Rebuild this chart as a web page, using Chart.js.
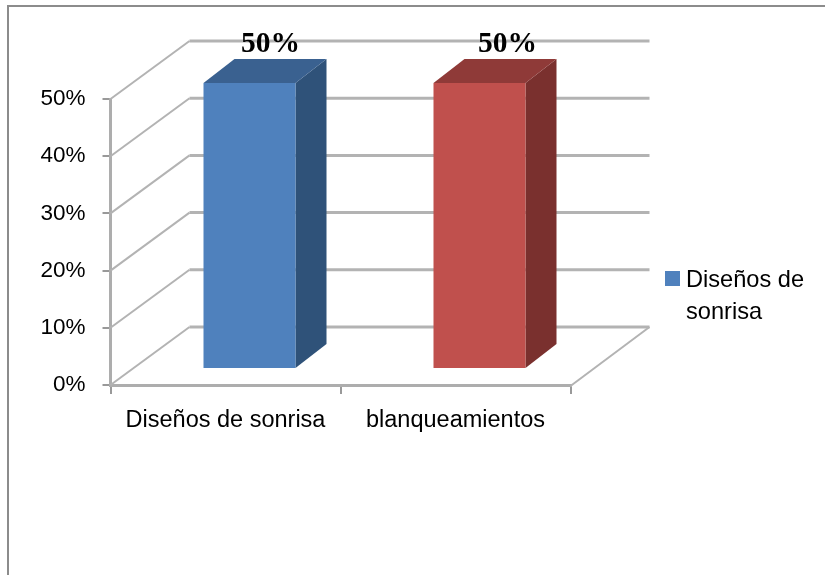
<!DOCTYPE html>
<html>
<head>
<meta charset="utf-8">
<title>Diseños de sonrisa</title>
<script src="https://cdn.jsdelivr.net/npm/chart.js@4"></script>
<style>
  html, body { margin: 0; background: #fff; }
  #wrap { position: relative; width: 825px; height: 575px; overflow: hidden; }
  #frame { position: absolute; left: 7px; top: 5px; width: 830px; height: 590px; border-left: 2px solid #8c8c8c; border-top: 2px solid #8c8c8c; }
  #legend { position: absolute; left: 665px; top: 263px; width: 150px; font: 23.6px/32px "Liberation Sans", sans-serif; color: #000; padding-left: 21px; box-sizing: border-box; }
  #legend i { position: absolute; left: 0; top: 8px; width: 15px; height: 15px; background: #4f81bd; }
  canvas { position: absolute; left: 0; top: 0; filter: blur(0.4px); }
</style>
</head>
<body>
<div id="wrap">
  <div id="frame"></div>
  <canvas id="c" width="825" height="575"></canvas>
  <div id="legend"><i></i>Diseños de sonrisa</div>
</div>
<script>
const categories = ['Diseños de sonrisa', 'blanqueamientos'];
const values = [50, 50];
const tickStep = 10;
const axisMax = 50;
const frontColors = ['#4f81bd', '#c0504d'];
const sideColors = ['#2f5279', '#7a302e'];
const topColors = ['#3a6190', '#8f3a38'];

// 3d look: the depth of the box and how far the bars sit in from the front edge
const DEPTH = { x: 79, y: -58 };
const BAR_DEPTH = { x: 31, y: -24 };
const BAR_SHIFT = { x: 24, y: -16 };
const LABEL_SHIFT = [45, 52];
const WALL = '#b3b3b3';

const box3d = {
  id: 'box3d',
  beforeDatasetsDraw(chart) {
    const { ctx, chartArea: a, scales: { y } } = chart;
    ctx.save();
    ctx.lineJoin = 'round';
    for (let v = 0; v <= axisMax; v += tickStep) {
      const py = y.getPixelForValue(v);
      ctx.strokeStyle = WALL;
      ctx.lineWidth = 2;
      ctx.beginPath();
      ctx.moveTo(a.left, py);
      ctx.lineTo(a.left + DEPTH.x, py + DEPTH.y);
      ctx.stroke();
      ctx.lineWidth = 3;
      ctx.beginPath();
      ctx.moveTo(a.left + DEPTH.x, py + DEPTH.y);
      ctx.lineTo(a.right + DEPTH.x, py + DEPTH.y);
      ctx.stroke();
    }
    // floor edge on the right
    ctx.lineWidth = 2;
    ctx.beginPath();
    ctx.moveTo(a.right, a.bottom + 1);
    ctx.lineTo(a.right + DEPTH.x, a.bottom + DEPTH.y);
    ctx.stroke();
    ctx.restore();
    // bars are drawn shifted back into the box
    ctx.save();
    ctx.translate(BAR_SHIFT.x, BAR_SHIFT.y);
    chart.getDatasetMeta(0).data.forEach((bar, i) => {
      const p = bar.getProps(['x', 'y', 'base', 'width'], true);
      const l = p.x - p.width / 2, r = p.x + p.width / 2;
      ctx.fillStyle = sideColors[i];
      ctx.beginPath();
      ctx.moveTo(r, p.y);
      ctx.lineTo(r + BAR_DEPTH.x, p.y + BAR_DEPTH.y);
      ctx.lineTo(r + BAR_DEPTH.x, p.base + BAR_DEPTH.y);
      ctx.lineTo(r, p.base);
      ctx.closePath();
      ctx.fill();
      ctx.fillStyle = topColors[i];
      ctx.beginPath();
      ctx.moveTo(l, p.y);
      ctx.lineTo(l + BAR_DEPTH.x, p.y + BAR_DEPTH.y);
      ctx.lineTo(r + BAR_DEPTH.x, p.y + BAR_DEPTH.y);
      ctx.lineTo(r, p.y);
      ctx.closePath();
      ctx.fill();
    });
    ctx.restore();
    ctx.save();
    ctx.translate(BAR_SHIFT.x, BAR_SHIFT.y);
  },
  afterDatasetsDraw(chart) {
    const { ctx } = chart;
    ctx.restore();
    // value labels above the boxes
    ctx.save();
    ctx.font = 'bold 29.5px "Liberation Serif", serif';
    ctx.fillStyle = '#000';
    ctx.textAlign = 'center';
    ctx.textBaseline = 'alphabetic';
    chart.getDatasetMeta(0).data.forEach((bar, i) => {
      const p = bar.getProps(['x', 'y'], true);
      ctx.fillText(values[i] + '%', p.x + LABEL_SHIFT[i], p.y - 47);
    });
    ctx.restore();
  }
};

new Chart(document.getElementById('c'), {
  type: 'bar',
  data: {
    labels: categories,
    datasets: [{
      label: 'Diseños de sonrisa',
      data: values,
      backgroundColor: frontColors,
      barPercentage: 0.4,
      categoryPercentage: 1,
      clip: false
    }]
  },
  options: {
    responsive: false,
    animation: false,
    layout: { padding: { top: 99, right: 254.5, left: 0, bottom: 0 } },
    plugins: { legend: { display: false }, tooltip: { enabled: false } },
    scales: {
      x: {
        afterFit(s) { s.height = 190; },
        border: { color: '#adadad', width: 3 },
        grid: { drawOnChartArea: false, color: '#999', tickLength: 9, lineWidth: 2 },
        ticks: { color: '#000', padding: 12, font: { family: '"Liberation Sans"', size: 23.5 }, maxRotation: 0 }
      },
      y: {
        min: 0,
        max: axisMax,
        afterFit(s) { s.width = 110.5; },
        border: { color: '#adadad', width: 3 },
        grid: { drawOnChartArea: false, color: '#999', tickLength: 8, lineWidth: 2 },
        ticks: { stepSize: tickStep, color: '#000', padding: 17, font: { family: '"Liberation Sans"', size: 22.5 }, callback: v => v + '%' }
      }
    }
  },
  plugins: [box3d]
});
</script>
</body>
</html>
